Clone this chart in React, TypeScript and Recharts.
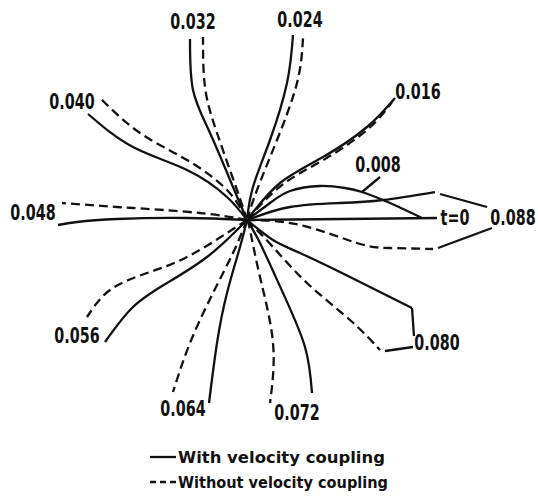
import React from "react";
import {
  ComposedChart,
  Line,
  Scatter,
  XAxis,
  YAxis,
} from "recharts";

type Pt = { x: number; y: number };
type Tag = { x: number; y: number; text: string };

// pressure-wave front traces, centre of the star at (0,0)
const t0With: Pt[] = [{ x: 0, y: 0 }, { x: 95, y: 1 }, { x: 190, y: 2 }];

const t008With: Pt[] = [
  { x: 0, y: 0 }, { x: 23, y: 17 }, { x: 43, y: 29 }, { x: 73, y: 34 },
  { x: 98, y: 32 }, { x: 115, y: 28 }, { x: 143, y: 17 }, { x: 175, y: 2 },
];

const t016With: Pt[] = [
  { x: 0, y: 0 }, { x: 33, y: 37 }, { x: 76, y: 63 }, { x: 120, y: 93 }, { x: 148, y: 122 },
];
const t016Without: Pt[] = [
  { x: 0, y: 0 }, { x: 35, y: 35 }, { x: 78, y: 61 }, { x: 121, y: 91 }, { x: 145, y: 118 },
];

const t024With: Pt[] = [
  { x: 0, y: 0 }, { x: 6, y: 33 }, { x: 23, y: 80 }, { x: 40, y: 137 }, { x: 46, y: 185 },
];
const t024Without: Pt[] = [
  { x: 0, y: 0 }, { x: 10, y: 30 }, { x: 30, y: 80 }, { x: 50, y: 137 }, { x: 56, y: 182 },
];

const t032With: Pt[] = [
  { x: 0, y: 0 }, { x: -14, y: 33 }, { x: -37, y: 87 }, { x: -54, y: 130 }, { x: -57, y: 181 },
];
const t032Without: Pt[] = [
  { x: 0, y: 0 }, { x: -10, y: 30 }, { x: -30, y: 87 }, { x: -42, y: 133 }, { x: -44, y: 183 },
];

const t040With: Pt[] = [
  { x: 0, y: 0 }, { x: -20, y: 23 }, { x: -60, y: 50 }, { x: -114, y: 73 }, { x: -159, y: 106 },
];
const t040Without: Pt[] = [
  { x: 0, y: 0 }, { x: -20, y: 30 }, { x: -60, y: 60 }, { x: -107, y: 87 }, { x: -147, y: 122 },
];

const t048With: Pt[] = [
  { x: 0, y: 0 }, { x: -60, y: 2 }, { x: -130, y: 1 }, { x: -170, y: -2 }, { x: -189, y: -5 },
];
const t048Without: Pt[] = [
  { x: 0, y: 0 }, { x: -47, y: 7 }, { x: -114, y: 12 }, { x: -130, y: 13 }, { x: -185, y: 17 },
];

const t056With: Pt[] = [
  { x: 0, y: 0 }, { x: -10, y: -10 }, { x: -40, y: -37 }, { x: -80, y: -63 },
  { x: -114, y: -87 }, { x: -142, y: -122 },
];
const t056Without: Pt[] = [
  { x: 0, y: 0 }, { x: -20, y: -13 }, { x: -60, y: -37 }, { x: -100, y: -53 },
  { x: -137, y: -70 }, { x: -160, y: -97 },
];

const t064With: Pt[] = [
  { x: 0, y: 0 }, { x: -7, y: -27 }, { x: -20, y: -73 }, { x: -30, y: -123 }, { x: -38, y: -183 },
];
const t064Without: Pt[] = [
  { x: 0, y: 0 }, { x: -14, y: -33 }, { x: -34, y: -73 }, { x: -57, y: -123 }, { x: -74, y: -172 },
];

const t072With: Pt[] = [
  { x: 0, y: 0 }, { x: 13, y: -23 }, { x: 36, y: -73 }, { x: 58, y: -127 }, { x: 65, y: -173 },
];
const t072Without: Pt[] = [
  { x: 0, y: 0 }, { x: 3, y: -10 }, { x: 13, y: -57 }, { x: 26, y: -123 }, { x: 23, y: -183 },
];

const t080With: Pt[] = [
  { x: 0, y: 0 }, { x: 26, y: -20 }, { x: 53, y: -33 }, { x: 103, y: -57 }, { x: 165, y: -88 },
];
const t080Without: Pt[] = [
  { x: 0, y: 0 }, { x: 26, y: -27 }, { x: 60, y: -63 }, { x: 103, y: -100 }, { x: 133, y: -130 },
];

const t088With: Pt[] = [
  { x: 0, y: 0 }, { x: 43, y: 13 }, { x: 93, y: 17 }, { x: 136, y: 20 }, { x: 188, y: 28 },
];
const t088Without: Pt[] = [
  { x: 0, y: 0 }, { x: 53, y: -5 }, { x: 110, y: -23 }, { x: 143, y: -28 }, { x: 186, y: -29 },
];

// leader lines from curve ends to their labels
const leaders: Pt[][] = [
  [{ x: 115, y: 28 }, { x: 133, y: 43 }],
  [{ x: 193, y: 26 }, { x: 240, y: 13 }],
  [{ x: 191, y: -28 }, { x: 245, y: -8 }],
  [{ x: 165, y: -88 }, { x: 167, y: -116 }],
  [{ x: 138, y: -131 }, { x: 166, y: -127 }],
];

const tags: Tag[] = [
  { x: 208, y: 2, text: "t=0" },
  { x: 131, y: 55, text: "0.008" },
  { x: 171, y: 128, text: "0.016" },
  { x: 53, y: 200, text: "0.024" },
  { x: -54, y: 198, text: "0.032" },
  { x: -175, y: 118, text: "0.040" },
  { x: -214, y: 7, text: "0.048" },
  { x: -170, y: -116, text: "0.056" },
  { x: -64, y: -189, text: "0.064" },
  { x: 50, y: -193, text: "0.072" },
  { x: 190, y: -123, text: "0.080" },
  { x: 266, y: 2, text: "0.088" },
];

const withCoupling = [t0With, t008With, t016With, t024With, t032With, t040With, t048With, t056With, t064With, t072With, t080With, t088With];
const withoutCoupling = [t016Without, t024Without, t032Without, t040Without, t048Without, t056Without, t064Without, t072Without, t080Without, t088Without];

const legendRows = [
  { label: "With velocity coupling", dash: undefined as string | undefined },
  { label: "Without velocity coupling", dash: "6 4" },
];

const INK = "#111";
const DASH = "9 5";
const FONT = "DejaVu Sans, sans-serif";

const TagText = (props: any) => {
  const { cx, cy, payload } = props;
  return (
    <text
      x={0}
      y={0}
      transform={`translate(${cx},${cy}) scale(0.7,1)`}
      textAnchor="middle"
      dominantBaseline="central"
      fontFamily={FONT}
      fontWeight="bold"
      fontSize={20.5}
      fill={INK}
    >
      {payload.text}
    </text>
  );
};

export default function App() {
  return (
    <div style={{ position: "absolute", left: 0, top: 0, width: 538, height: 497, background: "#fff" }}>
      <ComposedChart width={538} height={497} margin={{ top: 0, right: 0, bottom: 0, left: 0 }}>
        <XAxis type="number" dataKey="x" domain={[-247, 291]} hide allowDataOverflow />
        <YAxis type="number" dataKey="y" domain={[-277, 220]} hide allowDataOverflow />
        {withCoupling.map((d, i) => (
          <Line
            key={`w${i}`}
            data={d}
            dataKey="y"
            type="natural"
            stroke={INK}
            strokeWidth={2.3}
            dot={false}
            activeDot={false}
            isAnimationActive={false}
          />
        ))}
        {withoutCoupling.map((d, i) => (
          <Line
            key={`wo${i}`}
            data={d}
            dataKey="y"
            type="natural"
            stroke={INK}
            strokeWidth={2.3}
            strokeDasharray={DASH}
            dot={false}
            activeDot={false}
            isAnimationActive={false}
          />
        ))}
        {leaders.map((d, i) => (
          <Line
            key={`l${i}`}
            data={d}
            dataKey="y"
            type="linear"
            stroke={INK}
            strokeWidth={2.3}
            dot={false}
            activeDot={false}
            isAnimationActive={false}
          />
        ))}
        <Scatter data={tags} dataKey="y" shape={TagText} isAnimationActive={false} />
      </ComposedChart>
      <svg
        width={280}
        height={52}
        style={{ position: "absolute", left: 148, top: 444, overflow: "visible" }}
      >
        {legendRows.map((r, i) => (
          <g key={r.label} transform={`translate(0,${13 + i * 25})`}>
            <line x1={2} y1={0} x2={28} y2={0} stroke={INK} strokeWidth={2.3} strokeDasharray={r.dash} />
            <text
              x={30}
              y={0}
              dominantBaseline="central"
              fontFamily={FONT}
              fontWeight="bold"
              fontSize={16.5}
              fill={INK}
              textLength={i === 0 ? 207 : 210}
              lengthAdjust="spacingAndGlyphs"
            >
              {r.label}
            </text>
          </g>
        ))}
      </svg>
    </div>
  );
}
